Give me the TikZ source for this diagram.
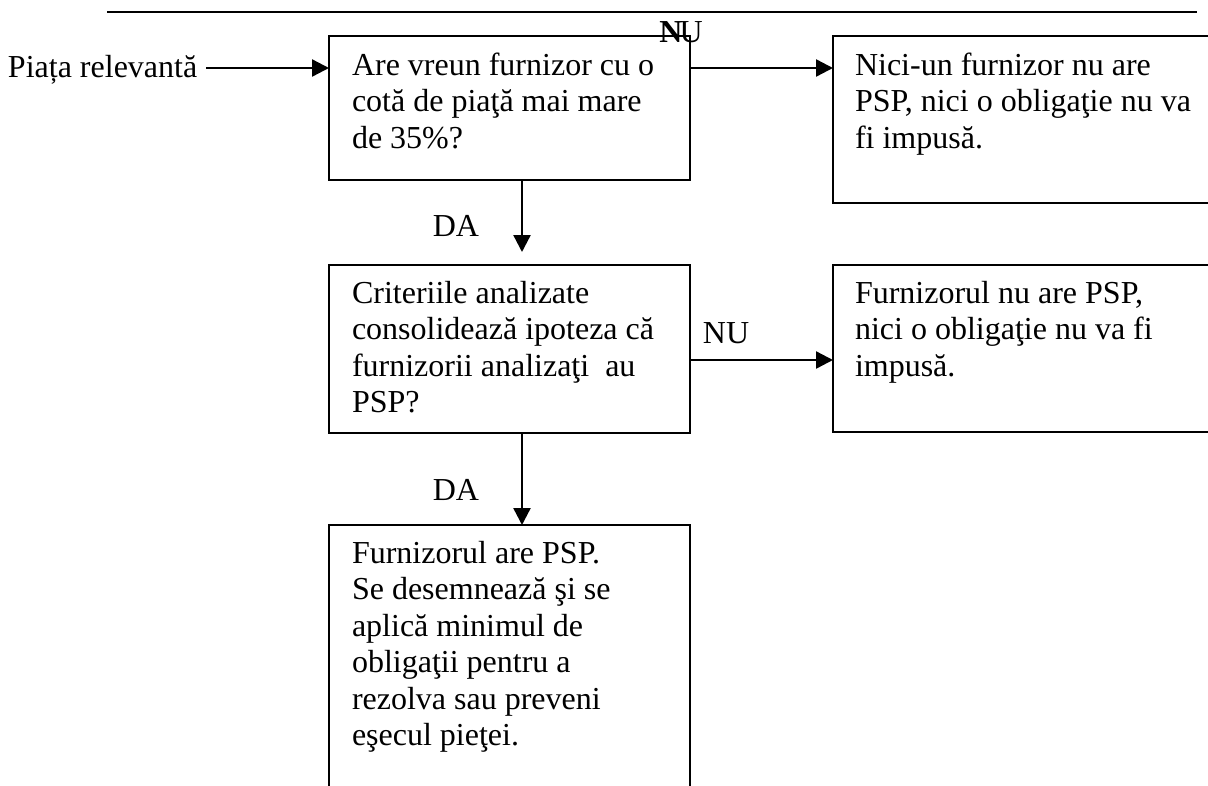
\documentclass[tikz,border=0pt]{standalone}
\usepackage{fontspec}
\setmainfont{Liberation Serif}
\usetikzlibrary{arrows.meta,calc}
\begin{document}
\begin{tikzpicture}[x=1pt,y=-1pt,
  box/.style={draw=black, line width=2.4pt, fill=white, anchor=north west, inner sep=0pt, outer sep=0pt},
  txt/.style={anchor=base west, inner sep=0pt, outer sep=0pt, font=\fontsize{32}{36.5}\selectfont},
  arr/.style={line width=2.4pt, -{Triangle[length=17pt,width=17pt]}},
  lbl/.style={anchor=base, inner sep=0pt, font=\fontsize{32}{36.5}\selectfont}]
\useasboundingbox (0,0) rectangle (1208,785);
\coordinate (ruleL) at (107,12);
\coordinate (ruleR) at (1197,12);
\draw[line width=2.4pt] (ruleL) -- (ruleR);
% boxes
\node[box, minimum width=361pt, minimum height=144pt] (b1) at (329,36) {};
\node[box, minimum width=400pt, minimum height=167pt] (b3) at (833,36) {};
\node[box, minimum width=361pt, minimum height=168pt] (b2) at (329,265) {};
\node[box, minimum width=400pt, minimum height=167pt] (b4) at (833,265) {};
\node[box, minimum width=361pt, minimum height=300pt] (b5) at (329,525) {};
% texts
\node[txt] (t1) at ($(b1.north west)+(23,39)$) {\parbox[t]{340pt}{\raggedright Are vreun furnizor cu o\\cotă de piaţă mai mare\\de 35\%?}};
\node[txt] (t3) at ($(b3.north west)+(22,39)$) {\parbox[t]{360pt}{\raggedright Nici-un furnizor nu are\\PSP, nici o obligaţie nu va\\fi impusă.}};
\node[txt] (t2) at ($(b2.north west)+(23,38)$) {\parbox[t]{340pt}{\raggedright Criteriile analizate\\consolidează ipoteza că\\furnizorii analizaţi\ \ au\\PSP?}};
\node[txt] (t4) at ($(b4.north west)+(22,38)$) {\parbox[t]{360pt}{\raggedright Furnizorul nu are PSP,\\nici o obligaţie nu va fi\\impusă.}};
\node[txt] (t5) at ($(b5.north west)+(23,38)$) {\parbox[t]{340pt}{\raggedright Furnizorul are PSP.\\Se desemnează şi se\\aplică minimul de\\obligaţii pentru a\\rezolva sau preveni\\eşecul pieţei.}};
\node[txt] (src) at (8,77) {Piața relevantă};
% labels
\node[lbl] (da1) at (456,236) {DA};
\node[lbl] (da2) at (456,500) {DA};
\node[lbl] (nu1) at (726,343) {NU};
\node[lbl] (nu0) at (681,42) {\textbf{N}\kern-3pt U};
% arrows
\draw[arr] ($(src.base east)+(9,-9)$) -- ($(b1.north west)+(0,32)$);
\draw[arr] ($(b1.north east)+(0,32)$) -- ($(b3.north west)+(0,32)$);
\draw[arr, shorten >=13pt] ($(b1.south west)+(193,0)$) -- ($(b2.north west)+(193,0)$);
\draw[arr] ($(b2.north east)+(0,95)$) -- ($(b4.north west)+(0,95)$);
\draw[arr] ($(b2.south west)+(193,0)$) -- ($(b5.north west)+(193,0)$);
\end{tikzpicture}
\end{document}
